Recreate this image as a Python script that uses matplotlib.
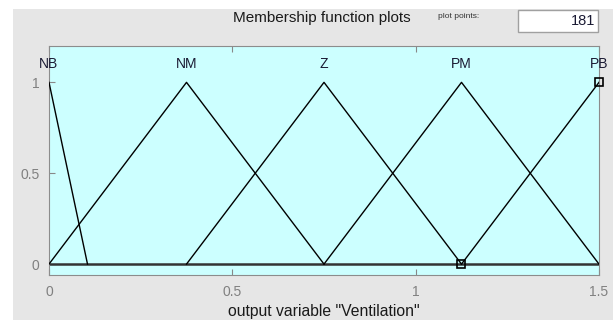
import matplotlib.pyplot as plt
from matplotlib.patches import Rectangle

# membership functions of output variable "Ventilation" (triangles: a, b, c)
mf_names = ["NB", "NM", "Z", "PM", "PB"]
mf_params = [
    [-0.105, 0.0, 0.105],
    [0.0, 0.375, 0.75],
    [0.375, 0.75, 1.125],
    [0.75, 1.125, 1.5],
    [1.125, 1.5, 1.875],
]
label_x = [0.0, 0.375, 0.75, 1.125, 1.5]
marker_x = [1.5, 1.125]
marker_y = [1.0, 0.0]
x_range = [0.0, 1.5]
xticks = [0, 0.5, 1, 1.5]
xtick_labels = ["0", "0.5", "1", "1.5"]
yticks = [0, 0.5, 1]
ytick_labels = ["0", "0.5", "1"]

plt.rcParams['font.family'] = ['Liberation Sans', 'DejaVu Sans']

fig = plt.figure(figsize=(6.13, 3.2), dpi=100, facecolor='white')
fig.patches.append(Rectangle((13 / 613, 0), 1, 311 / 320, transform=fig.transFigure,
                             facecolor='#e6e6e6', edgecolor='none', zorder=-10))

ax = fig.add_axes([49 / 613, 45 / 320, 550 / 613, 229 / 320])
ax.set_facecolor('#ccffff')

lo, hi = x_range
for a, b, c in mf_params:
    xs = [max(a, lo), b, min(c, hi)]
    ys = []
    for x in xs:
        if x <= b:
            ys.append((x - a) / (b - a))
        else:
            ys.append((c - x) / (c - b))
    ax.plot(xs, ys, color='black', lw=1.0, zorder=3)

ax.plot(x_range, [0, 0], color='#333333', lw=1.8, zorder=2)
ax.plot(marker_x, marker_y, ls='none', marker='s', ms=6, mfc='none',
        mec='black', mew=1.2, zorder=4, clip_on=False)

for name, x in zip(mf_names, label_x):
    ax.text(x, 1.1, name, ha='center', va='center', fontsize=10, color='#1a1a33')

ax.set_xlim(x_range)
ax.set_ylim(-0.06, 1.2)
ax.set_xticks(xticks)
ax.set_xticklabels(xtick_labels)
ax.set_yticks(yticks)
ax.set_yticklabels(ytick_labels)
ax.tick_params(direction='in', top=True, length=4, color='#888888',
               labelcolor='#808080', labelsize=10, pad=7)
for s in ax.spines.values():
    s.set_color('#8c8c8c')
ax.set_xlabel('output variable "Ventilation"', fontsize=11.3, color='#1a1a1a', labelpad=4)

fig.text(322 / 613, 1 - 18 / 320, 'Membership function plots', ha='center', va='center',
         fontsize=11, color='#1a1a1a')
fig.text(459 / 613, 1 - 16 / 320, 'plot points:', ha='center', va='center',
         fontsize=6, color='#333333')
fig.patches.append(Rectangle((518 / 613, 1 - 32 / 320), 80 / 613, 22 / 320,
                             transform=fig.transFigure, facecolor='white',
                             edgecolor='#a0a0a0', lw=1))
fig.text(595 / 613, 1 - 21 / 320, '181', ha='right', va='center',
         fontsize=10.5, color='#1a1a33')

fig.savefig('out.png', dpi=100, facecolor=fig.get_facecolor())
